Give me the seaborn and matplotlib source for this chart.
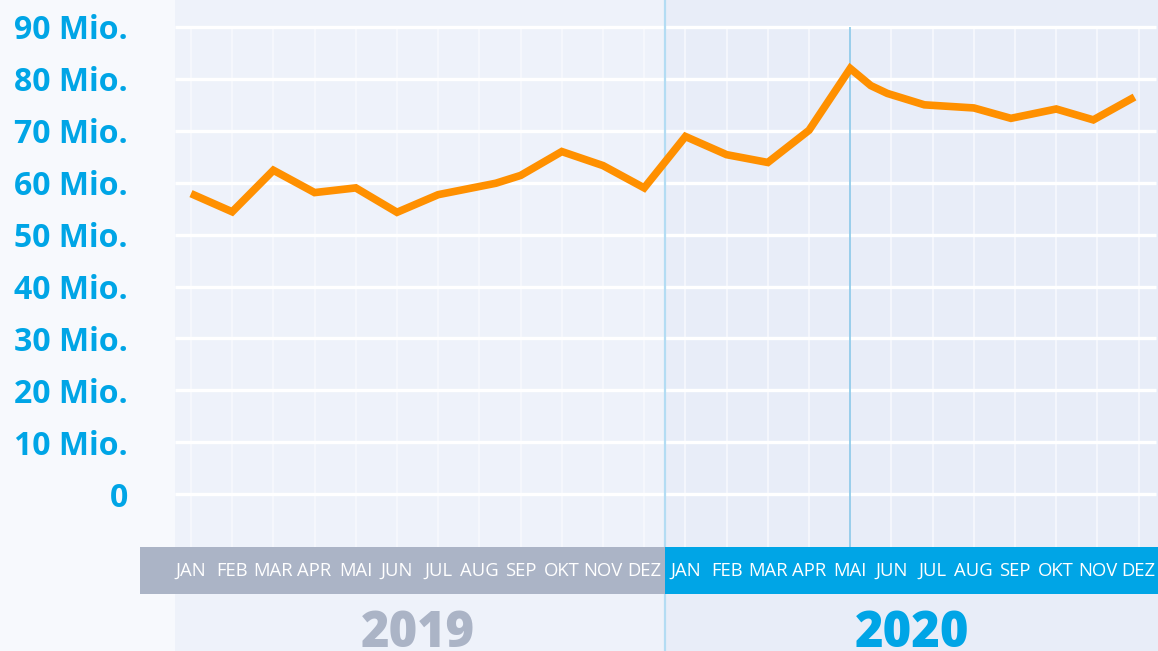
import seaborn as sns
import pandas as pd
from matplotlib import pyplot as plt
from matplotlib.patches import Rectangle

# month labels per year
months = ["JAN", "FEB", "MAR", "APR", "MAI", "JUN", "JUL", "AUG", "SEP", "OKT", "NOV", "DEZ"]
years = ["2019", "2020"]

# position of each reading in months since Jan 2019, and value in millions
month_pos = [0, 1, 2, 3, 4, 5, 6, 7.4, 8, 9, 10, 11,
             12, 13, 14, 15, 16, 16.5, 16.9, 17.8, 19, 19.9, 21, 21.9, 22.9]
values = [57.9, 54.4, 62.4, 58.1, 59.0, 54.3, 57.7, 59.9, 61.4, 66.0, 63.3, 59.0,
          68.9, 65.4, 63.9, 70.1, 82.0, 78.7, 77.2, 75.0, 74.4, 72.4, 74.2, 72.1, 76.5]
yticks = [0, 10, 20, 30, 40, 50, 60, 70, 80, 90]
ytick_labels = ["0"] + [f"{v} Mio." for v in yticks[1:]]

BLUE = "#00a5e6"
GREY = "#abb4c6"
ORANGE = "#ff9000"

sns.set_style("white")
plt.rcParams["font.family"] = ["Open Sans", "DejaVu Sans"]

df = pd.DataFrame({"month": month_pos, "value": values})

fig = plt.figure(figsize=(11.58, 6.51), dpi=100, facecolor="#f7f9fd")
ax = fig.add_axes([175 / 1158, 0, 983 / 1158, 1])
x_lo, x_hi = -0.388, 23.47
y_lo, y_hi = -30.19, 95.19
ax.set_xlim(x_lo, x_hi)
ax.set_ylim(y_lo, y_hi)
ax.set_facecolor("#eef2fa")

split = 11.5
band_top, band_bot = -10.2, -19.2

# background per year
ax.axvspan(x_lo, split, color="#eef2fa", zorder=0, lw=0)
ax.axvspan(split, x_hi, color="#e8edf8", zorder=0, lw=0)

# vertical month grid
all_months = list(range(24))
ax.vlines(all_months, band_top, 90, color="#f6f8fd", lw=1.3, zorder=1)
# horizontal grid
ax.hlines(yticks, x_lo, x_hi - 0.05, color="white", lw=2.4, zorder=1)

# year separator and May 2020 marker
ax.axvline(split, color="#b3dcf3", lw=1.6, zorder=2)
ax.vlines([16], band_top, 90, color="#7fc3e6", lw=1.1, zorder=2)

sns.lineplot(data=df, x="month", y="value", ax=ax, color=ORANGE, lw=5.5, zorder=5,
             sort=False)
for ln in ax.lines:
    ln.set_solid_joinstyle("miter")
    ln.set_solid_capstyle("butt")

# month bands
ax.add_patch(Rectangle((-1.24, band_bot), split + 1.24, band_top - band_bot,
                       color=GREY, lw=0, clip_on=False, zorder=6))
ax.add_patch(Rectangle((split, band_bot), x_hi - split, band_top - band_bot,
                       color=BLUE, lw=0, clip_on=False, zorder=6))
for yi, year in enumerate(years):
    for mi, m in enumerate(months):
        ax.text(yi * 12 + mi, (band_top + band_bot) / 2, m, color="white",
                fontsize=13.3, ha="center", va="center", zorder=7)
    ax.text(yi * 12 + 5.5, -29.4, year, color=[GREY, BLUE][yi], fontsize=35,
            fontweight="heavy", ha="center", va="baseline", zorder=7)

ax.set_yticks(yticks)
ax.set_yticklabels(ytick_labels)
ax.set_xticks([])
ax.tick_params(axis="y", length=0, pad=34, labelcolor=BLUE, labelsize=23)
for lbl in ax.get_yticklabels():
    lbl.set_fontweight("bold")
ax.set_xlabel("")
ax.set_ylabel("")
ax.grid(False)
for s in ax.spines.values():
    s.set_visible(False)

fig.savefig("out.png", dpi=100, facecolor=fig.get_facecolor())
